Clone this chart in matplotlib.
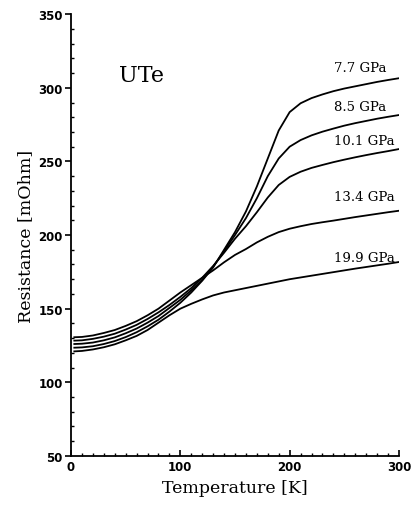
import numpy as np
import matplotlib
matplotlib.use("Agg")
import matplotlib.pyplot as plt
from matplotlib.ticker import MultipleLocator

# ======================
# Data (T in K, R in mOhm)
# ======================
temp = [3, 10, 20, 30, 40, 50, 60, 70, 80, 90, 100, 110, 120, 130, 140, 150,
        160, 170, 180, 190, 200, 210, 220, 230, 240, 250, 260, 270, 280, 290, 300]

r_77 = [123.5, 123.7, 124.5, 126, 128, 130.7, 134, 138, 142.5, 148, 154, 161, 169, 178,
        190, 202, 216, 233, 252, 271, 283.5, 289.5, 293, 295.5, 297.7, 299.5, 301,
        302.5, 304, 305.3, 306.5]
r_85 = [126, 126.2, 127, 128.5, 130.5, 133.3, 136.5, 140.5, 145, 150.5, 156, 162.5,
        169.5, 178.5, 189, 200, 211.5, 225, 240, 252, 260, 264.5, 267.7, 270.2, 272.3,
        274.3, 276, 277.5, 279, 280.3, 281.5]
r_101 = [128.3, 128.5, 129.5, 131, 133, 135.8, 139, 143, 147.5, 152.5, 158, 164, 171,
         179, 188, 197.5, 206, 215.5, 225.5, 234, 239.5, 243, 245.6, 247.6, 249.5, 251.2,
         252.8, 254.3, 255.7, 257, 258.4]
r_134 = [130.6, 130.8, 131.8, 133.5, 135.5, 138.3, 141.5, 145.5, 150, 155.5, 161, 166,
         171, 176, 181.5, 186.5, 190.5, 195, 198.8, 202, 204.3, 206, 207.5, 208.7,
         209.8, 211, 212.2, 213.3, 214.4, 215.5, 216.5]
r_199 = [121, 121.3, 122.3, 123.8, 125.8, 128.5, 131.5, 135.5, 140.5, 145.5, 150, 153.3,
         156.3, 159, 161, 162.5, 164, 165.5, 167, 168.5, 170, 171.2, 172.4, 173.6, 174.8,
         176, 177.2, 178.3, 179.4, 180.5, 181.7]

series = [r_77, r_85, r_101, r_134, r_199]
labels = ["7.7 GPa", "8.5 GPa", "10.1 GPa", "13.4 GPa", "19.9 GPa"]
label_y = [314, 287, 264, 226.5, 185]

# ======================
# Plot
# ======================
fig = plt.figure(figsize=(4.13, 5.06), dpi=100)
ax = fig.add_axes([0.172, 0.097, 0.794, 0.873])

for r in series:
    ax.plot(temp, r, color="black", linewidth=1.3)

for lab, y in zip(labels, label_y):
    ax.text(241, y, lab, fontsize=9.5, family="DejaVu Serif", ha="left", va="center")

ax.text(44, 309, "UTe", fontsize=16, family="DejaVu Serif", ha="left", va="center")

ax.set_xlim(0, 300)
ax.set_ylim(50, 350)
ax.xaxis.set_major_locator(MultipleLocator(100))
ax.xaxis.set_minor_locator(MultipleLocator(10))
ax.yaxis.set_major_locator(MultipleLocator(50))
ax.yaxis.set_minor_locator(MultipleLocator(10))

ax.spines["top"].set_visible(False)
ax.spines["right"].set_visible(False)
ax.spines["left"].set_linewidth(1.3)
ax.spines["bottom"].set_linewidth(1.3)

ax.tick_params(axis="y", which="major", direction="out", length=4, width=1.2,
               labelsize=8.5, pad=2)
ax.tick_params(axis="y", which="minor", direction="in", length=2.5, width=1)
ax.tick_params(axis="x", which="major", direction="in", length=4, width=1.2,
               labelsize=8.5, pad=3)
ax.tick_params(axis="x", which="minor", direction="in", length=2.5, width=1)
for t in ax.get_xticklabels() + ax.get_yticklabels():
    t.set_fontweight("bold")

ax.set_xlabel("Temperature [K]", fontsize=12.5, family="DejaVu Serif", labelpad=4)
ax.set_ylabel("Resistance [mOhm]", fontsize=12.5, family="DejaVu Serif", labelpad=3)

plt.savefig("out.png", dpi=100)
